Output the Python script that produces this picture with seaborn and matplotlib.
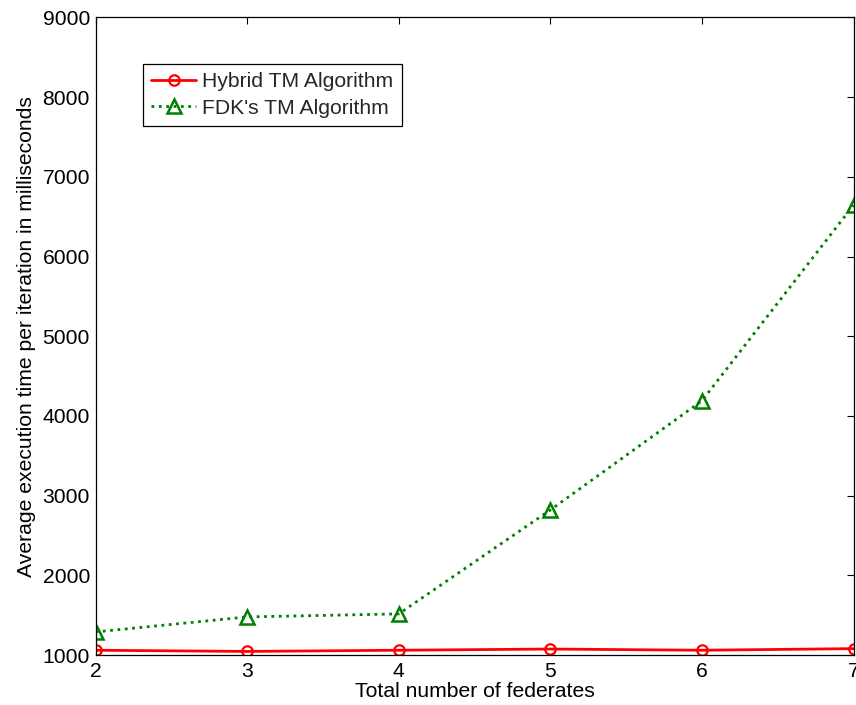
import matplotlib
matplotlib.use("Agg")
import matplotlib.pyplot as plt
import seaborn as sns
import pandas as pd

federates = [2, 3, 4, 5, 6, 7]
hybrid_ms = [1060, 1045, 1060, 1075, 1060, 1080]
fdk_ms = [1290, 1478, 1516, 2820, 4190, 6645]
series_names = ["Hybrid TM Algorithm", "FDK's TM Algorithm"]
y_ticks = [1000, 2000, 3000, 4000, 5000, 6000, 7000, 8000, 9000]

sns.set_style("white")
plt.rcParams["font.family"] = ["Liberation Sans", "DejaVu Sans"]

df = pd.DataFrame({
    "federates": federates * 2,
    "time": hybrid_ms + fdk_ms,
    "series": [series_names[0]] * len(federates) + [series_names[1]] * len(federates),
})

FS = 15.2

fig = plt.figure(figsize=(8.56, 7.05), dpi=100)
ax = fig.add_axes([0.1116, 0.0709, 0.8855, 0.9043])

sns.lineplot(data=df[df.series == series_names[0]], x="federates", y="time",
             color="#ff0000", linewidth=2.0, linestyle="-", marker="o",
             markersize=7.5, markerfacecolor="none", markeredgecolor="#ff0000",
             markeredgewidth=1.6, label=series_names[0], ax=ax)
sns.lineplot(data=df[df.series == series_names[1]], x="federates", y="time",
             color="#008000", linewidth=2.0, linestyle=":", marker="^",
             markersize=9.5, markerfacecolor="none", markeredgecolor="#008000",
             markeredgewidth=1.8, label=series_names[1], ax=ax)

ax.set_xlim(2, 7)
ax.set_ylim(1000, 9000)
ax.set_xticks(federates)
ax.set_yticks(y_ticks)
ax.tick_params(direction="in", top=True, right=True, length=5, labelsize=FS,
               width=0.8, color="black", labelcolor="black")
ax.tick_params(axis="x", pad=5)
ax.tick_params(axis="y", pad=4)
for side in ax.spines.values():
    side.set_color("black")
    side.set_linewidth(0.9)

ax.set_xlabel("Total number of federates", fontsize=FS, labelpad=1, color="black")
ax.set_ylabel("Average execution time per iteration in milliseconds",
              fontsize=FS, labelpad=5, color="black")

leg = ax.legend(loc="upper left", bbox_to_anchor=(0.0627, 0.927), fontsize=FS,
                frameon=True, fancybox=False, edgecolor="black", framealpha=1,
                handlelength=2.1, borderpad=0.4, labelspacing=0.35,
                handletextpad=0.3, borderaxespad=0)
leg.get_frame().set_linewidth(0.9)

fig.savefig("out.png", dpi=100)
